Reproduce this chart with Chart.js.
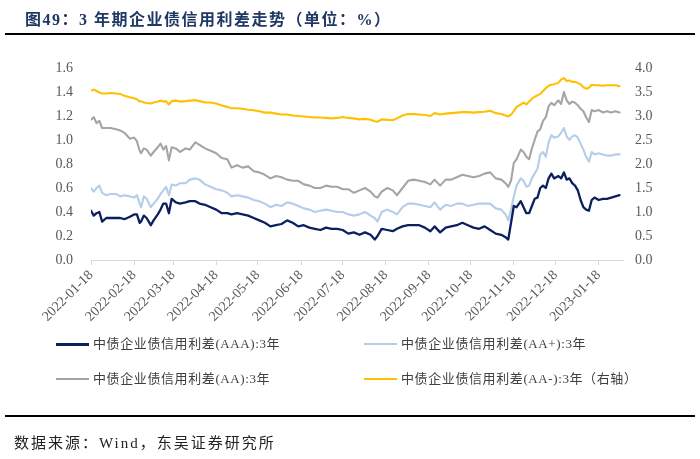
<!DOCTYPE html>
<html><head><meta charset="utf-8">
<script src="https://cdn.jsdelivr.net/npm/chart.js@4.4.1/dist/chart.umd.min.js"></script>
<style>
html,body{margin:0;padding:0;background:#fff;}
#wrap{position:relative;width:700px;height:459px;overflow:hidden;background:#fff;font-family:"Liberation Serif","Noto Sans CJK SC",serif;}
#c{position:absolute;left:0;top:0;width:700px;height:459px;}
.title{position:absolute;left:25px;top:9px;font-size:16px;line-height:22px;font-weight:bold;color:#1F3864;letter-spacing:1.5px;white-space:nowrap;}
.rule{position:absolute;left:5px;width:690px;height:2px;background:#000;}
.leg{position:absolute;font-size:13px;line-height:16px;color:#404040;white-space:nowrap;letter-spacing:0.6px;}
.leg i{position:absolute;top:7px;width:33px;height:2px;}
.leg span{position:absolute;top:0;}
.src{position:absolute;left:14px;top:433px;font-size:15px;line-height:20px;color:#222;white-space:nowrap;letter-spacing:2px;}
</style></head><body>
<div id="wrap">
<canvas id="c" width="700" height="459"></canvas>
<div class="title" id="title"></div>
<div class="rule" style="top:33px"></div>
<div id="legend"></div>
<div class="rule" style="top:415px"></div>
<div class="src" id="src"></div>
</div>
<script>
const titleText = '图49：3 年期企业债信用利差走势（单位：%）';
const sourceText = '数据来源：Wind，东吴证券研究所';
const seriesNames = ['中债企业债信用利差(AAA):3年','中债企业债信用利差(AA+):3年','中债企业债信用利差(AA):3年','中债企业债信用利差(AA-):3年（右轴）'];
const tickLabels = ['2022-01-18','2022-02-18','2022-03-18','2022-04-18','2022-05-18','2022-06-18','2022-07-18','2022-08-18','2022-09-18','2022-10-18','2022-11-18','2022-12-18','2023-01-18'];
const leftTicks = [0,0.2,0.4,0.6,0.8,1.0,1.2,1.4,1.6];
const rightTicks = [0,0.5,1.0,1.5,2.0,2.5,3.0,3.5,4.0];

const dates = [
'2022-01-18','2022-01-20','2022-01-22','2022-01-24','2022-01-26','2022-01-29','2022-02-01','2022-02-05','2022-02-08','2022-02-11',
'2022-02-15','2022-02-18','2022-02-20','2022-02-22','2022-02-23','2022-02-25','2022-02-27','2022-03-02','2022-03-04','2022-03-07',
'2022-03-09','2022-03-11','2022-03-13','2022-03-15','2022-03-17','2022-03-20','2022-03-23','2022-03-27','2022-03-30','2022-04-03',
'2022-04-06','2022-04-10','2022-04-14','2022-04-18','2022-04-22','2022-04-26','2022-04-29','2022-05-03','2022-05-07','2022-05-11',
'2022-05-15','2022-05-19','2022-05-23','2022-05-27','2022-05-31','2022-06-04','2022-06-08','2022-06-12','2022-06-16','2022-06-20',
'2022-06-24','2022-06-28','2022-07-02','2022-07-06','2022-07-10','2022-07-14','2022-07-18','2022-07-22','2022-07-26','2022-07-30',
'2022-08-03','2022-08-07','2022-08-10','2022-08-12','2022-08-15','2022-08-19','2022-08-23','2022-08-26','2022-08-30','2022-09-03',
'2022-09-07','2022-09-11','2022-09-15','2022-09-19','2022-09-22','2022-09-26','2022-09-30','2022-10-04','2022-10-08','2022-10-12',
'2022-10-16','2022-10-20','2022-10-24','2022-10-28','2022-11-01','2022-11-05','2022-11-09','2022-11-12','2022-11-14','2022-11-16',
'2022-11-18','2022-11-20','2022-11-23','2022-11-25','2022-11-27','2022-11-29','2022-12-01','2022-12-03','2022-12-05','2022-12-07',
'2022-12-09','2022-12-11','2022-12-13','2022-12-15','2022-12-17','2022-12-20','2022-12-22','2022-12-24','2022-12-26','2022-12-28',
'2022-12-30','2023-01-01','2023-01-03','2023-01-05','2023-01-07','2023-01-09','2023-01-11','2023-01-13','2023-01-15','2023-01-18',
'2023-01-21','2023-01-24','2023-01-27','2023-01-30','2023-02-02'];

const spreadAAA = [
0.41,0.37,0.39,0.40,0.32,0.35,0.35,0.35,0.35,0.34,
0.36,0.38,0.38,0.31,0.32,0.37,0.35,0.29,0.33,0.38,
0.42,0.47,0.47,0.39,0.51,0.48,0.47,0.48,0.49,0.49,
0.47,0.46,0.44,0.42,0.39,0.39,0.38,0.39,0.38,0.37,
0.35,0.33,0.31,0.28,0.29,0.30,0.33,0.31,0.28,0.29,
0.27,0.26,0.25,0.27,0.26,0.26,0.25,0.22,0.23,0.21,
0.23,0.21,0.17,0.20,0.26,0.25,0.24,0.26,0.28,0.29,
0.29,0.29,0.27,0.24,0.28,0.23,0.27,0.28,0.29,0.31,
0.29,0.27,0.26,0.28,0.25,0.22,0.21,0.19,0.17,0.31,
0.45,0.44,0.49,0.44,0.39,0.39,0.45,0.51,0.52,0.60,
0.62,0.60,0.68,0.72,0.68,0.70,0.68,0.73,0.67,0.68,
0.64,0.62,0.58,0.50,0.44,0.42,0.41,0.50,0.52,0.50,
0.51,0.51,0.52,0.53,0.54];

const spreadAAplus = [
0.60,0.57,0.60,0.62,0.56,0.54,0.55,0.55,0.53,0.54,
0.53,0.52,0.54,0.47,0.44,0.53,0.51,0.44,0.47,0.51,
0.55,0.58,0.61,0.54,0.63,0.62,0.64,0.64,0.67,0.68,
0.67,0.63,0.61,0.59,0.58,0.56,0.53,0.54,0.53,0.52,
0.50,0.49,0.47,0.44,0.46,0.45,0.48,0.47,0.45,0.43,
0.42,0.40,0.41,0.42,0.41,0.40,0.40,0.38,0.37,0.38,
0.40,0.37,0.35,0.32,0.40,0.42,0.40,0.38,0.44,0.47,
0.47,0.46,0.45,0.44,0.48,0.42,0.46,0.45,0.47,0.47,
0.45,0.46,0.47,0.47,0.47,0.43,0.42,0.38,0.33,0.42,
0.53,0.62,0.68,0.66,0.61,0.62,0.68,0.72,0.76,0.88,
0.90,0.86,0.98,1.04,1.02,1.03,1.06,1.10,1.03,1.00,
1.03,1.04,1.02,0.97,0.92,0.86,0.82,0.90,0.88,0.89,
0.88,0.87,0.87,0.88,0.88];

const spreadAA = [
1.17,1.19,1.14,1.16,1.10,1.10,1.10,1.09,1.08,1.06,
1.01,1.02,0.99,0.91,0.89,0.93,0.92,0.87,0.90,0.94,
0.97,0.92,0.95,0.83,0.94,0.93,0.90,0.93,0.92,0.98,
0.96,0.93,0.91,0.89,0.85,0.84,0.77,0.79,0.77,0.78,
0.74,0.73,0.71,0.68,0.70,0.69,0.67,0.66,0.66,0.63,
0.62,0.60,0.60,0.62,0.61,0.61,0.59,0.59,0.56,0.58,
0.60,0.57,0.53,0.52,0.57,0.60,0.58,0.54,0.60,0.66,
0.67,0.66,0.65,0.63,0.67,0.62,0.67,0.67,0.69,0.71,
0.70,0.69,0.70,0.72,0.73,0.68,0.67,0.64,0.61,0.66,
0.81,0.84,0.92,0.90,0.86,0.84,0.93,1.00,1.07,1.09,
1.16,1.19,1.28,1.31,1.29,1.33,1.30,1.40,1.33,1.30,
1.32,1.31,1.29,1.26,1.24,1.19,1.15,1.25,1.24,1.25,
1.23,1.24,1.23,1.24,1.23];

const spreadAAminus = [
3.53,3.55,3.52,3.49,3.47,3.47,3.48,3.47,3.46,3.42,
3.39,3.37,3.35,3.30,3.31,3.28,3.27,3.26,3.28,3.30,
3.32,3.30,3.31,3.24,3.31,3.32,3.30,3.31,3.32,3.33,
3.31,3.28,3.28,3.26,3.22,3.19,3.16,3.16,3.15,3.13,
3.12,3.10,3.07,3.07,3.05,3.03,3.03,3.01,3.00,2.99,
2.98,2.97,2.97,2.96,2.95,2.96,2.98,2.96,2.95,2.93,
2.94,2.92,2.89,2.88,2.93,2.92,2.91,2.95,3.01,3.04,
3.04,3.03,3.02,3.00,3.06,3.03,3.05,3.06,3.07,3.08,
3.08,3.07,3.08,3.09,3.11,3.06,3.04,3.01,2.99,3.03,
3.10,3.19,3.24,3.28,3.24,3.30,3.36,3.40,3.43,3.46,
3.52,3.58,3.63,3.65,3.66,3.69,3.76,3.79,3.73,3.74,
3.71,3.71,3.69,3.66,3.60,3.57,3.59,3.65,3.64,3.64,
3.63,3.64,3.64,3.64,3.62];

const colors = ['#0B1F5E','#B4CEE9','#A5A5A5','#FFC000'];

const t0 = Date.parse(tickLabels[0]);
const dayOf = s => Math.round((Date.parse(s) - t0) / 86400000);
const mk = vals => dates.map((d, i) => ({x: dayOf(d), y: vals[i]}));
const tickDays = tickLabels.map(dayOf);

document.getElementById('title').textContent = titleText;
document.getElementById('src').textContent = sourceText;

const tickFont = {family: '"Liberation Serif", "Times New Roman", serif', size: 14};
const tickColor = '#595959';

const chart = new Chart(document.getElementById('c').getContext('2d'), {
  type: 'line',
  data: {
    datasets: [
      {label: seriesNames[0], data: mk(spreadAAA), borderColor: colors[0], backgroundColor: colors[0], borderWidth: 2.3, yAxisID: 'y'},
      {label: seriesNames[1], data: mk(spreadAAplus), borderColor: colors[1], backgroundColor: colors[1], borderWidth: 2.1, yAxisID: 'y'},
      {label: seriesNames[2], data: mk(spreadAA), borderColor: colors[2], backgroundColor: colors[2], borderWidth: 2.1, yAxisID: 'y'},
      {label: seriesNames[3], data: mk(spreadAAminus), borderColor: colors[3], backgroundColor: colors[3], borderWidth: 2.1, yAxisID: 'y2'}
    ]
  },
  options: {
    responsive: false,
    animation: false,
    layout: {padding: {top: 68, left: 0, right: 0, bottom: 109}},
    elements: {point: {radius: 0}, line: {tension: 0, borderJoinStyle: 'round', borderCapStyle: 'round'}},
    plugins: {legend: {display: false}, tooltip: {enabled: false}, title: {display: false}},
    scales: {
      x: {
        type: 'linear', min: 0, max: 382.5,
        afterBuildTicks: s => { s.ticks = tickDays.map(v => ({value: v})); },
        afterFit: s => { s.height = 90; },
        ticks: {callback: (v, i) => tickLabels[i], maxRotation: 45, minRotation: 45, autoSkip: false, font: tickFont, color: tickColor, padding: 2},
        grid: {drawOnChartArea: false, drawTicks: true, tickLength: 5, color: '#D9D9D9', lineWidth: 1},
        border: {display: true, color: '#D9D9D9', width: 1}
      },
      y: {
        position: 'left', min: 0, max: 1.6,
        afterBuildTicks: s => { s.ticks = leftTicks.map(v => ({value: v})); },
        afterFit: s => { s.width = 91; },
        ticks: {callback: v => Number(v).toFixed(1), font: tickFont, color: tickColor, padding: 18},
        grid: {display: false, drawTicks: false},
        border: {display: false}
      },
      y2: {
        position: 'right', min: 0, max: 4,
        afterBuildTicks: s => { s.ticks = rightTicks.map(v => ({value: v})); },
        afterFit: s => { s.width = 77; },
        ticks: {callback: v => Number(v).toFixed(1), font: tickFont, color: tickColor, padding: 12},
        grid: {display: false, drawTicks: false},
        border: {display: false}
      }
    }
  }
});

// legend built from datasets
const legPos = [[56, 336], [364, 336], [56, 371], [364, 371]];
const legend = document.getElementById('legend');
chart.data.datasets.forEach((ds, i) => {
  const d = document.createElement('div');
  d.className = 'leg';
  d.style.left = legPos[i][0] + 'px';
  d.style.top = legPos[i][1] + 'px';
  const ln = document.createElement('i');
  ln.style.left = '0px';
  ln.style.background = ds.borderColor;
  if (i === 0) ln.style.height = '2.5px';
  const tx = document.createElement('span');
  tx.style.left = '37px';
  tx.textContent = ds.label;
  d.appendChild(ln); d.appendChild(tx);
  legend.appendChild(d);
});
</script>
</body></html>
